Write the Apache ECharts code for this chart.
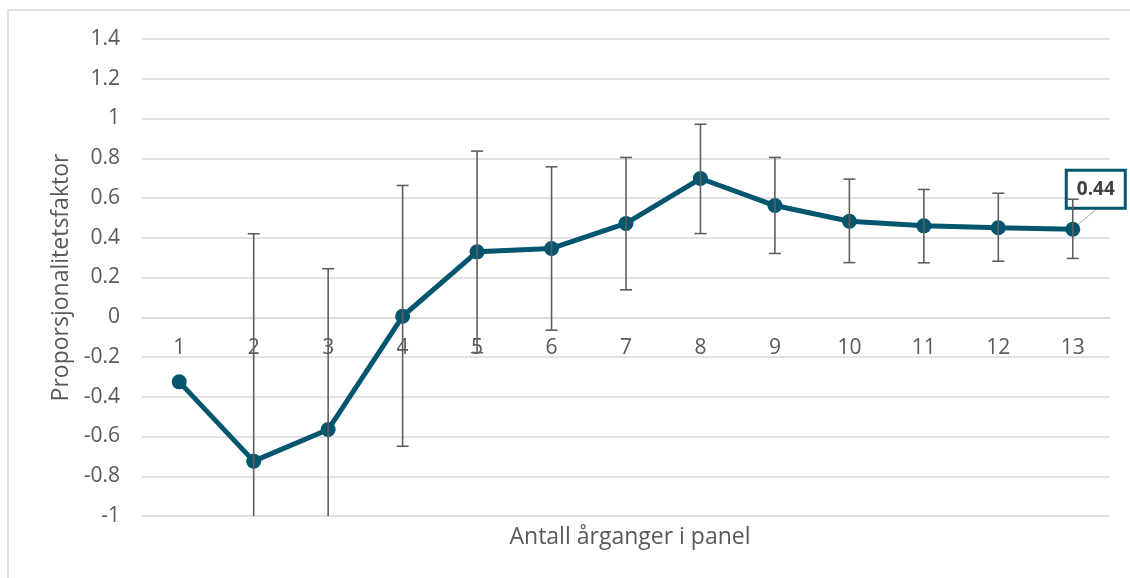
<!DOCTYPE html>
<html lang="no">

<head>
    <meta charset="UTF-8">
    <title>Proporsjonalitetsfaktor</title>
    <script src="https://cdn.jsdelivr.net/npm/echarts@6/dist/echarts.min.js"></script>
    <style>
        html, body { margin: 0; padding: 0; background: #fff; }
        #chart { width: 1130px; height: 578px; }
    </style>
</head>

<body>
    <div id="chart"></div>
    <script>
        // antall årganger i panel
        const categories = ['1', '2', '3', '4', '5', '6', '7', '8', '9', '10', '11', '12', '13'];
        // estimert proporsjonalitetsfaktor
        const values = [-0.325, -0.724, -0.565, 0.005, 0.329, 0.346, 0.472, 0.698, 0.562, 0.483, 0.46, 0.45, 0.443];
        // konfidensintervall (null = ingen feilstolpe)
        const errLow = [null, -1.87, -1.37, -0.649, -0.178, -0.065, 0.138, 0.421, 0.321, 0.275, 0.274, 0.282, 0.296];
        const errHigh = [null, 0.42, 0.244, 0.663, 0.836, 0.757, 0.804, 0.971, 0.804, 0.695, 0.643, 0.624, 0.594];
        const yTicks = { min: -1, max: 1.4, step: 0.2 };

        const font = '"Open Sans", sans-serif';
        const textGray = '#595959';
        const lineColor = '#03566e';

        const gridTop = 39, gridBottom = 62, chartH = 578;

        let myChart = echarts.init(document.getElementById('chart'));

        let errData = [];
        for (let i = 0; i < categories.length; i++) {
            if (errLow[i] === null) continue;
            errData.push([i, errLow[i], errHigh[i]]);
        }

        // kategoriaksen skal ligge på y = 0
        let plotH = chartH - gridTop - gridBottom;
        let zeroOffset = -plotH * (0 - yTicks.min) / (yTicks.max - yTicks.min);

        function renderErr(params, api) {
            let x = api.value(0);
            let top = api.coord([x, api.value(2)]);
            let bot = api.coord([x, api.value(1)]);
            let half = 6;
            let style = { stroke: '#5f5f5f', lineWidth: 1.6 };
            return {
                type: 'group',
                children: [
                    { type: 'line', shape: { x1: top[0], y1: top[1], x2: bot[0], y2: bot[1] }, style: style },
                    { type: 'line', shape: { x1: top[0] - half, y1: top[1], x2: top[0] + half, y2: top[1] }, style: style },
                    { type: 'line', shape: { x1: bot[0] - half, y1: bot[1], x2: bot[0] + half, y2: bot[1] }, style: style }
                ]
            };
        }

        let lineData = values.map(function (v, i) {
            if (i === values.length - 1) {
                return { value: v, label: { show: true } };
            }
            return v;
        });

        let option = {
            animation: false,
            textStyle: { fontFamily: font },
            graphic: [{
                type: 'rect',
                shape: { x: 8, y: 10, width: 1140, height: 600 },
                style: { fill: 'none', stroke: '#d9d9d9', lineWidth: 1.5 },
                silent: true
            }],
            // x-aksens tittel (aksen selv ligger på null)
            title: {
                text: 'Antall årganger i panel',
                left: 625,
                top: 521,
                textAlign: 'center',
                textStyle: { color: textGray, fontSize: 23, fontWeight: 'normal', fontFamily: font }
            },
            grid: { left: 142, right: 20, top: gridTop, bottom: gridBottom },
            xAxis: {
                type: 'category',
                data: categories,
                boundaryGap: true,
                position: 'bottom',
                offset: zeroOffset,
                axisLine: { onZero: false, lineStyle: { color: '#d9d9d9', width: 1.5 } },
                axisTick: { show: false },
                axisLabel: { color: textGray, fontSize: 21, margin: 20, fontFamily: font }
            },
            yAxis: {
                type: 'value',
                min: yTicks.min,
                max: yTicks.max,
                interval: yTicks.step,
                name: 'Proporsjonalitetsfaktor',
                nameLocation: 'middle',
                nameGap: 69,
                nameTextStyle: { color: textGray, fontSize: 23, fontFamily: font },
                axisLine: { show: false },
                axisTick: { show: false },
                axisLabel: { color: textGray, fontSize: 21, margin: 22, fontFamily: font },
                splitLine: { lineStyle: { color: '#d9d9d9', width: 1.5 } }
            },
            series: [
                {
                    name: 'Proporsjonalitetsfaktor',
                    type: 'line',
                    data: lineData,
                    symbol: 'circle',
                    symbolSize: 15,
                    lineStyle: { color: lineColor, width: 5 },
                    itemStyle: { color: lineColor },
                    z: 2,
                    label: {
                        show: false,
                        position: 'inside',
                        formatter: function (p) { return p.value.toFixed(2); },
                        fontFamily: font,
                        fontSize: 19,
                        fontWeight: 'bold',
                        color: '#404040',
                        backgroundColor: '#fff',
                        borderColor: lineColor,
                        borderWidth: 3,
                        padding: [9, 9, 7, 9]
                    },
                    labelLine: { show: true, lineStyle: { color: '#a6a6a6', width: 1 } },
                    labelLayout: { dx: 23, dy: -40 }
                },
                {
                    name: 'Feilstolper',
                    type: 'custom',
                    renderItem: renderErr,
                    data: errData,
                    clip: true,
                    z: 3,
                    silent: true
                }
            ]
        };

        myChart.setOption(option);
    </script>
</body>

</html>
